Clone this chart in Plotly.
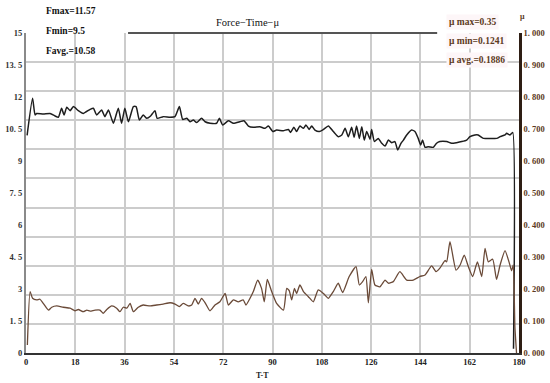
import plotly.graph_objects as go

# ---- data ----
t_force = [0.4, 2.4, 3.3, 3.9, 6.3, 8.8, 10.6, 11.8, 13.0, 13.9, 14.9, 16.1, 17.3, 19.1, 20.9,
           23.4, 24.6, 25.8, 27.6, 28.8, 30.1, 31.9, 33.7, 34.9, 36.1, 37.4, 39.2, 40.2, 41.4,
           42.8, 44.1, 45.5, 47.1, 47.9, 50.1, 52.6, 54.4, 56.0, 57.2, 58.7, 59.9, 61.1, 62.3,
           64.1, 65.4, 67.2, 69.6, 70.6, 71.8, 73.9, 75.7, 78.1, 79.6, 81.2, 83.0, 85.4, 87.2,
           88.5, 90.1,
           91.5, 93.9, 95.8, 96.6, 97.8, 98.8, 100.0, 101.3, 102.2, 103.4, 104.3, 105.5, 107.1,
           108.6, 110.4, 112.2, 114.0, 115.3, 116.5, 117.7, 118.9, 119.8, 120.7, 121.7, 122.6,
           123.5, 124.4, 125.6, 126.2, 127.2, 128.6, 129.9, 131.1, 132.3, 133.5, 134.7, 135.7,
           136.9, 137.8, 139.0, 140.8, 142.0, 143.2, 144.1, 144.8, 145.7, 146.9, 148.7, 149.9,
           151.1, 153.6, 155.4, 157.2, 159.1, 160.9, 162.1, 163.9, 165.1, 167.0, 169.4, 171.9,
           173.1, 174.9, 175.5, 176.7, 177.7, 178.0]
force = [10.2, 11.94, 11.16, 11.23, 11.2, 11.23, 11.11, 11.05, 11.47, 11.16, 11.52, 11.36, 11.55,
         11.36, 11.23, 11.42, 11.47, 11.16, 11.39, 11.08, 11.39, 10.77, 11.47, 10.77, 11.47,
         10.84, 11.55, 11.55, 10.92, 11.16, 11.0, 11.11, 11.36, 11.0, 11.08, 11.05, 11.08, 11.55,
         10.95, 11.0, 10.84, 10.92, 10.80, 11.0, 10.84, 10.77, 10.77, 11.0, 10.69, 10.89, 10.77,
         10.84, 10.89, 10.64, 10.58, 10.61, 10.53, 10.64, 10.38,
         10.45, 10.42, 10.48, 10.34, 10.58, 10.38, 10.64, 10.53, 10.69, 10.48, 10.64, 10.45,
         10.38, 10.48, 10.64, 10.38, 10.14, 10.22, 10.53, 10.14, 10.58, 10.11, 10.64, 10.06,
         10.61, 9.98, 10.38, 10.02, 10.48, 9.91, 10.06, 9.83, 9.70, 9.98, 9.86, 9.91, 9.52, 9.83,
         9.98, 10.22, 10.45, 10.38, 10.06, 9.75, 9.98, 9.64, 9.67, 9.64, 9.83, 9.91, 9.91, 9.83,
         9.86, 9.91, 9.98, 10.14, 10.22, 10.22, 10.06, 10.06, 10.06, 10.14, 10.22, 10.30, 10.22,
         10.34, 0.2]

t_mu = [0.5, 1.5, 2.4, 3.9, 5.1, 6.3, 8.2, 9.4, 11.2, 13.6,
        16.1, 17.9, 19.1, 20.9, 22.2, 23.4, 25.2, 27.0, 28.2, 29.5,
        31.3, 33.1, 34.3, 35.5, 36.8, 38.0, 39.2, 41.0, 42.8, 45.3,
        47.7, 50.1, 52.6, 54.4, 56.0, 57.4, 59.3, 60.5, 61.7, 62.9,
        64.1, 65.4, 67.2, 69.0, 70.8, 72.7, 73.9, 75.7, 77.5, 79.3,
        80.3, 81.8, 83.0, 84.6, 86.0, 87.0, 88.1, 89.7, 91.5, 94.0,
        95.2, 96.1, 97.0, 98.0, 98.8, 100.0, 101.3, 103.1, 104.9, 106.7,
        108.6, 110.4, 112.2, 114.0, 115.6, 118.0, 120.5, 121.7, 122.9, 124.1,
        125.0, 126.2, 127.4, 129.2, 131.1, 132.3, 134.1, 136.5, 139.0, 141.4,
        143.8, 145.7, 148.1, 149.7, 151.1, 153.0, 153.6, 154.8, 157.0, 158.5,
        160.0, 161.5, 163.1, 164.8, 166.4, 167.6, 168.8, 170.4, 171.8, 173.1,
        174.9, 176.5, 177.3, 177.9, 178.5, 179.1]
mu = [0.025, 0.192, 0.171, 0.166, 0.168, 0.155, 0.134, 0.143, 0.147, 0.143,
      0.140, 0.132, 0.136, 0.129, 0.134, 0.131, 0.134, 0.134, 0.124, 0.136,
      0.147, 0.140, 0.129, 0.143, 0.140, 0.155, 0.129, 0.143, 0.150, 0.147,
      0.150, 0.153, 0.157, 0.153, 0.145, 0.155, 0.147, 0.150, 0.171, 0.153,
      0.171, 0.157, 0.132, 0.150, 0.160, 0.186, 0.150, 0.166, 0.160, 0.166,
      0.150, 0.171, 0.192, 0.228, 0.202, 0.160, 0.230, 0.192, 0.155, 0.134,
      0.202, 0.195, 0.166, 0.202, 0.186, 0.2125, 0.192, 0.176, 0.160, 0.197,
      0.186, 0.171, 0.192, 0.218, 0.189, 0.239, 0.270, 0.2125, 0.223, 0.239,
      0.157, 0.261, 0.2125, 0.207, 0.228, 0.218, 0.223, 0.254, 0.228, 0.228,
      0.239, 0.244, 0.272, 0.254, 0.265, 0.289, 0.285, 0.348, 0.259, 0.275,
      0.306, 0.270, 0.239, 0.285, 0.239, 0.327, 0.285, 0.293, 0.230, 0.275,
      0.320, 0.280, 0.257, 0.275, 0.082, 0.0]

x_ticks = [0, 18, 36, 54, 72, 90, 108, 126, 144, 162, 180]
force_ticks = [0, 1.5, 3, 4.5, 6, 7.5, 9, 10.5, 12, 13.5, 15]
force_tick_text = ["0", "1.\u00a05", "3", "4.\u00a05", "6", "7.\u00a05", "9", "10.\u00a05", "12",
                   "13.\u00a05", "15"]
mu_ticks = [0, 0.1, 0.2, 0.3, 0.4, 0.5, 0.6, 0.7, 0.8, 0.9, 1.0]
mu_tick_text = ["0.\u00a0000", "0.\u00a0100", "0.\u00a0200", "0.\u00a0300", "0.\u00a0400",
                "0.\u00a0500", "0.\u00a0600", "0.\u00a0700", "0.\u00a0800", "0.\u00a0900",
                "1.\u00a0000"]

f_stats = ["Fmax=11.57", "Fmin=9.5", "Favg.=10.58"]
mu_stats = ["μ max=0.35", "μ min=0.1241", "μ avg.=0.1886"]
title_text = "Force−Time−μ"

SERIF = "Liberation Serif"
BROWN = "#5c3a22"

fig = go.Figure()
fig.add_trace(go.Scatter(x=[], y=[], yaxis="y3", showlegend=False, hoverinfo="skip"))
fig.add_trace(go.Scatter(x=t_mu, y=mu, yaxis="y2", mode="lines",
                         line=dict(color="#6a4a38", width=1.3, shape="spline", smoothing=0.5),
                         showlegend=False))
fig.add_trace(go.Scatter(x=t_force, y=force, yaxis="y", mode="lines",
                         line=dict(color="#1e1e1e", width=1.5, shape="spline", smoothing=0.5),
                         showlegend=False))

fig.update_layout(
    width=550, height=383,
    margin=dict(l=26, r=31, t=33, b=30, autoexpand=False),
    paper_bgcolor="white", plot_bgcolor="white",
    showlegend=False,
    xaxis=dict(range=[0, 180], tickvals=x_ticks, showgrid=True, gridcolor="#cccccc",
               gridwidth=1.5, zeroline=False, showline=True, linecolor="#333333", linewidth=2,
               ticks="", automargin=False,
               tickfont=dict(family=SERIF, size=8.5, color="#222222", weight="bold")),
    yaxis=dict(range=[0, 15], tickvals=force_ticks, ticktext=force_tick_text, showgrid=False,
               zeroline=False, showline=True, linecolor="#8a8a8a", linewidth=2, ticks="",
               automargin=False,
               tickfont=dict(family=SERIF, size=8.5, color="#333333", weight="bold")),
    yaxis2=dict(range=[0, 1], overlaying="y", side="right", tickvals=mu_ticks,
                ticktext=mu_tick_text, showgrid=False, zeroline=False, showline=True,
                linecolor="#2e1e14", linewidth=2.5, ticks="", automargin=False,
                tickfont=dict(family=SERIF, size=8.5, color=BROWN, weight="bold")),
    yaxis3=dict(range=[0, 11], overlaying="y", dtick=1, showgrid=True, gridcolor="#cccccc",
                gridwidth=1.5, showticklabels=False, zeroline=False, showline=False, ticks="",
                automargin=False),
)

# partial top frame line
fig.add_shape(type="line", xref="paper", yref="paper", x0=0.207, x1=0.834, y0=1, y1=1,
              line=dict(color="#555555", width=2))

ann = []
for txt, yp in zip(f_stats, [1.070, 1.005, 0.945]):
    ann.append(dict(text=txt, x=0.0365, y=yp, xref="paper", yref="paper", xanchor="left",
                    yanchor="middle", showarrow=False,
                    font=dict(family=SERIF, size=9.5, color="#111111", weight="bold")))
for txt, yp in zip(mu_stats, [1.034, 0.975, 0.915]):
    ann.append(dict(text=txt, x=0.852, y=yp, xref="paper", yref="paper", xanchor="left",
                    yanchor="middle", showarrow=False, bgcolor="#fdf6f8", borderpad=2,
                    font=dict(family=SERIF, size=9.5, color=BROWN, weight="bold")))
ann.append(dict(text=title_text, x=0.450, y=1.034, xref="paper", yref="paper",
                xanchor="center", yanchor="middle", showarrow=False,
                font=dict(family=SERIF, size=10.5, color="#111111")))
ann.append(dict(text="μ", x=1.008, y=1.05, xref="paper", yref="paper", xanchor="center",
                yanchor="middle", showarrow=False,
                font=dict(family=SERIF, size=8, color=BROWN, weight="bold")))
ann.append(dict(text="T-T", x=0.479, y=-0.069, xref="paper", yref="paper", xanchor="center",
                yanchor="middle", showarrow=False,
                font=dict(family=SERIF, size=8, color="#222222", weight="bold")))
fig.update_layout(annotations=ann)

fig.write_html("out.html", config={"displayModeBar": False},
               post_script="document.body.style.margin='0px';document.body.style.overflow='hidden';")
